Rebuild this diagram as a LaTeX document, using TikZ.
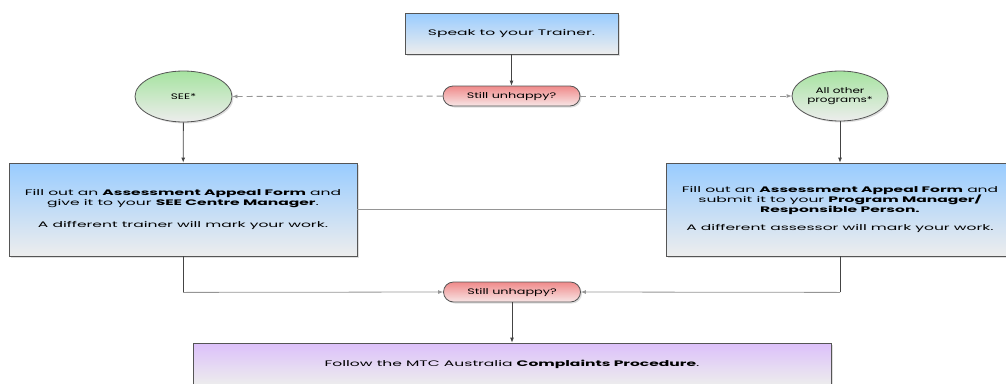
\documentclass[tikz,border=0pt]{standalone}
\usepackage{fontspec}
\setmainfont{Poppins}
\newfontfamily\boxfont{Poppins}[FakeStretch=1.94]
\newfontfamily\qfont{Poppins}[FakeStretch=1.6]
\newfontfamily\ellfont{Poppins}[FakeStretch=1.5]
\usetikzlibrary{shadows,arrows.meta,shapes.geometric}
\definecolor{bordc}{HTML}{555555}
\definecolor{linec}{HTML}{444444}
\definecolor{lightline}{HTML}{959595}
\definecolor{blue1}{HTML}{99CCFF}
\definecolor{grey1}{HTML}{EDEDED}
\definecolor{green1}{HTML}{A6E3A0}
\definecolor{red1}{HTML}{F08A8A}
\definecolor{red2}{HTML}{F7E6E6}
\definecolor{purple1}{HTML}{DCC0FA}
\tikzset{
  stepbox/.style={draw=bordc, line width=0.8pt, top color=blue1, bottom color=grey1,
    drop shadow={opacity=0.25, shadow xshift=1.5pt, shadow yshift=-1.5pt},
    align=center, inner sep=2pt, font=\boxfont\fontsize{8}{10}\selectfont},
  decision/.style={draw=bordc, line width=0.8pt, rounded corners=10pt, top color=red1, bottom color=red2,
    drop shadow={opacity=0.25, shadow xshift=1.5pt, shadow yshift=-1.5pt},
    minimum width=137pt, minimum height=20pt, inner sep=1pt, font=\qfont\fontsize{8}{9}\selectfont},
  choice/.style={draw=bordc, line width=0.8pt, ellipse, top color=green1, bottom color=grey1,
    drop shadow={opacity=0.25, shadow xshift=1.5pt, shadow yshift=-1.5pt},
    align=center, inner sep=0pt, font=\ellfont\fontsize{8}{8.5}\selectfont},
  conn/.style={draw=linec, line width=0.8pt, -{Latex[length=5pt,width=4pt]}},
  dconn/.style={draw=lightline, line width=0.8pt, dash pattern=on 6pt off 4pt, -{Latex[length=5pt,width=4pt]}},
  hconn/.style={draw=lightline, line width=0.8pt, -{Latex[length=5pt,width=4pt]}},
  plain/.style={draw=linec, line width=0.8pt},
}
\begin{document}
\begin{tikzpicture}[x=1pt,y=-1pt]
\useasboundingbox (0,0) rectangle (1006,383);
\node[stepbox, minimum width=213pt, minimum height=41pt] (top) at (511.5,33.5) {Speak to your Trainer.};
\node[decision] (q1) at (511.5,96) {Still unhappy?};
\node[choice, minimum width=97pt, minimum height=51pt] (see) at (183.5,96.5) {SEE*};
\node[choice, minimum width=96pt, minimum height=50pt] (other) at (840,96) {All other\\programs*};
\node[stepbox, minimum width=348pt, minimum height=93pt] (left) at (183,209.5)
  {Fill out an \textbf{Assessment Appeal Form} and\\give it to your \textbf{SEE Centre Manager}.\\[12pt]A different trainer will mark your work.};
\node[stepbox, minimum width=348pt, minimum height=93pt] (right) at (840,209.5)
  {Fill out an \textbf{Assessment Appeal Form} and\\submit it to your \textbf{Program Manager/}\\\textbf{Responsible Person.}\\[8pt]A different assessor will mark your work.};
\node[decision] (q2) at (512,292) {Still unhappy?};
\node[stepbox, top color=purple1, minimum width=638pt, minimum height=42pt] (final) at (512,364)
  {Follow the MTC Australia \textbf{Complaints Procedure}.};
\draw[conn] (top) -- (q1);
\draw[dconn] (q1) -- (see);
\draw[dconn] (q1) -- (other);
\draw[conn] (see) -- (left);
\draw[conn] (other) -- (right);
\draw[plain, draw=lightline] (left) -- (right);
\draw[plain] (left.south) -- ++(0,36) coordinate (lc);
\draw[hconn] (lc) -- (q2.west);
\draw[plain] (right.south) -- ++(0,36) coordinate (rc);
\draw[hconn] (rc) -- (q2.east);
\draw[conn] (q2) -- (final);
\end{tikzpicture}
\end{document}
